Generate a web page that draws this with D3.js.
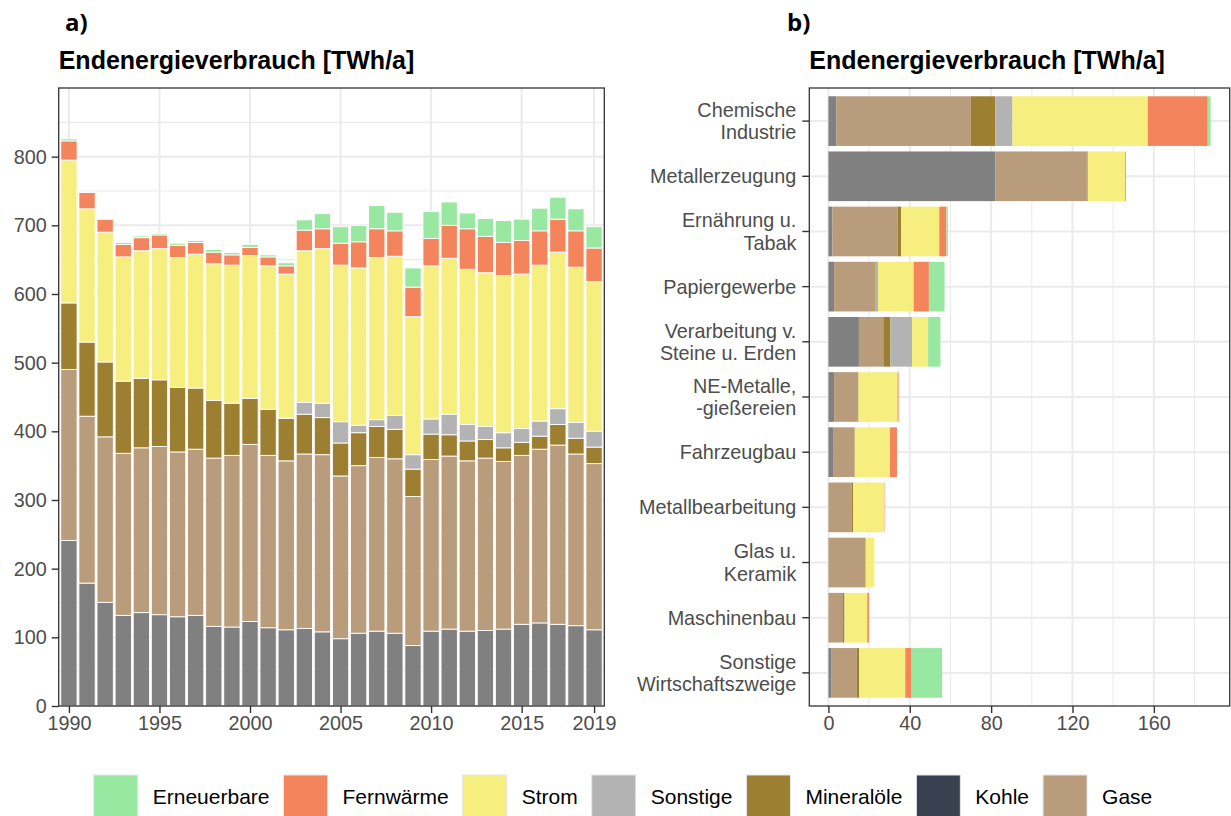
<!DOCTYPE html>
<html>
<head>
<meta charset="utf-8">
<script src="https://cdn.jsdelivr.net/npm/d3@7"></script>
<style>
  body { margin: 0; background: #fff; }
  svg { display: block; }
</style>
</head>
<body>
<svg id="chart" width="1231" height="816"></svg>
<script>
// ---- Panel a: final energy use of industry by year [TWh/a] ----
const years = [1990, 1991, 1992, 1993, 1994, 1995, 1996, 1997, 1998, 1999,
               2000, 2001, 2002, 2003, 2004, 2005, 2006, 2007, 2008, 2009,
               2010, 2011, 2012, 2013, 2014, 2015, 2016, 2017, 2018, 2019];
const yearTicks = [1990, 1995, 2000, 2005, 2010, 2015, 2019];
const valueTicksA = [0, 100, 200, 300, 400, 500, 600, 700, 800];

const kohle       = [241, 179, 151, 132, 136, 133, 130, 132, 116, 115, 123, 114, 111, 113, 108, 98, 106, 109, 106, 88, 109, 112, 109, 110, 112, 119, 121, 119, 117, 111];
const gase        = [249, 243, 241, 236, 240, 245, 240, 242, 245, 250, 258, 251, 246, 254, 258, 237, 244, 253, 254, 217, 250, 252, 248, 251, 244, 246, 253, 261, 250, 242];
const mineraloele = [97, 108, 109, 105, 101, 97, 94, 89, 84, 76, 67, 67, 62, 58, 54, 48, 48, 45, 43, 40, 37, 31, 29, 27, 20, 19, 19, 30, 23, 24];
const sonstige    = [0, 0, 0, 0, 0, 0, 0, 0, 0, 0, 0, 0, 0, 17, 21, 31, 11, 10, 20, 21, 22, 30, 24, 19, 22, 20, 22, 23, 23, 23];
const strom       = [208, 194, 189, 181, 186, 191, 189, 195, 199, 201, 208, 209, 210, 221, 225, 228, 229, 236, 232, 201, 223, 227, 226, 224, 229, 225, 227, 228, 226, 218];
const fernwaerme  = [28, 24, 19, 18, 19, 20, 18, 17, 17, 15, 12, 13, 12, 30, 29, 32, 38, 42, 37, 43, 40, 48, 59, 53, 48, 49, 50, 48, 53, 49];
const erneuerbare = [3, 1, 0.5, 3, 2.5, 2, 3, 3, 4, 3.5, 4, 3, 4.5, 15, 22, 24, 24, 34, 27, 28, 39, 34, 23, 26, 32, 31, 33, 32, 32, 31];

// ---- Panel b: final energy use by industrial branch [TWh/a] ----
const sectors = ["Chemische\nIndustrie", "Metallerzeugung", "Ernährung u.\nTabak", "Papiergewerbe",
                 "Verarbeitung v.\nSteine u. Erden", "NE-Metalle,\n-gießereien", "Fahrzeugbau",
                 "Metallbearbeitung", "Glas u.\nKeramik", "Maschinenbau", "Sonstige\nWirtschaftszweige"];
const valueTicksB = [0, 40, 80, 120, 160];

const bKohle       = [4, 82, 2, 2.8, 15, 2.8, 2.6, 0, 0, 0, 1.6];
const bGase        = [66, 45, 32, 19.8, 12, 11.8, 10.2, 11.4, 17.7, 7.1, 12.2];
const bMineraloele = [12, 0.5, 1.8, 0.3, 3.5, 0.2, 0.2, 0.8, 0.6, 0.8, 1.4];
const bSonstige    = [8.5, 0, 0, 1.5, 10.6, 0, 0, 0, 0, 0, 0];
const bStrom       = [66.5, 18.3, 18.7, 17.5, 7.9, 19.2, 17.3, 15.2, 4.3, 11.2, 22.6];
const bFernwaerme  = [29.5, 0.4, 3.5, 7.5, 0, 0.5, 3.4, 0.2, 0, 0.8, 3.1];
const bErneuerbare = [1.4, 0, 0.8, 7.7, 6.1, 0, 0, 0, 0, 0, 15];

// Energy carriers, stacked bottom → top, and the legend order
const carriers = ["Kohle", "Gase", "Mineralöle", "Sonstige", "Strom", "Fernwärme", "Erneuerbare"];
const legendOrder = ["Erneuerbare", "Fernwärme", "Strom", "Sonstige", "Mineralöle", "Kohle", "Gase"];

const barColor = {
  "Erneuerbare": "#99e8a2", "Fernwärme": "#f4845c", "Strom": "#f6ef80", "Sonstige": "#b3b3b3",
  "Mineralöle": "#9d7f32", "Kohle": "#808080", "Gase": "#b89c7b"
};
const legendColor = Object.assign({}, barColor, { "Kohle": "#394150" });

const seriesA = { "Kohle": kohle, "Gase": gase, "Mineralöle": mineraloele, "Sonstige": sonstige,
                  "Strom": strom, "Fernwärme": fernwaerme, "Erneuerbare": erneuerbare };
const seriesB = { "Kohle": bKohle, "Gase": bGase, "Mineralöle": bMineraloele, "Sonstige": bSonstige,
                  "Strom": bStrom, "Fernwärme": bFernwaerme, "Erneuerbare": bErneuerbare };

const rowsA = years.map((y, i) => {
  const r = { year: y };
  carriers.forEach(c => r[c] = seriesA[c][i]);
  return r;
});
const rowsB = sectors.map((s, i) => {
  const r = { sector: s };
  carriers.forEach(c => r[c] = seriesB[c][i]);
  return r;
});

const stack = d3.stack().keys(carriers);
const stackedA = stack(rowsA);
const stackedB = stack(rowsB);

// ---- common styling ----
const FONT = '"Liberation Sans", Arial, Helvetica, sans-serif';
const GRID = "#ebebeb";
const INK = "#333333";
const TICKTXT = "#4d4d4d";
const TICK_FS = "19.8px";

const svg = d3.select("#chart");

function styleAxis(g) {
  g.select(".domain").remove();
  g.selectAll(".tick line").attr("stroke", INK).attr("stroke-width", 1.4);
  g.selectAll(".tick text").attr("fill", TICKTXT).style("font-family", FONT).style("font-size", TICK_FS);
}

// ===================== Panel a =====================
const A = { left: 58.7, right: 604.3, top: 88, bottom: 706 };
const xA = d3.scaleLinear()
  .domain([years[0] - 0.565, years[years.length - 1] + 0.565])
  .range([A.left, A.right]);
const yA = d3.scaleLinear().domain([0, 900]).range([A.bottom, A.top]);

const gA = svg.append("g");
// grid
const minorA = d3.range(50, 900, 100);
gA.append("g").selectAll("line").data(minorA).join("line")
  .attr("x1", A.left).attr("x2", A.right)
  .attr("y1", d => yA(d)).attr("y2", d => yA(d))
  .attr("stroke", GRID).attr("stroke-width", 1.1);
gA.append("g").selectAll("line").data(valueTicksA).join("line")
  .attr("x1", A.left).attr("x2", A.right)
  .attr("y1", d => yA(d)).attr("y2", d => yA(d))
  .attr("stroke", GRID).attr("stroke-width", 2);
gA.append("g").selectAll("line").data(yearTicks).join("line")
  .attr("x1", d => xA(d)).attr("x2", d => xA(d))
  .attr("y1", A.top).attr("y2", A.bottom)
  .attr("stroke", GRID).attr("stroke-width", 2);

// stacked bars
const halfBar = 0.45;
gA.append("g").selectAll("g").data(stackedA).join("g")
  .attr("fill", d => barColor[d.key])
  .selectAll("rect").data(d => d.filter(s => s[1] - s[0] > 0)).join("rect")
  .attr("x", d => xA(d.data.year - halfBar))
  .attr("width", d => xA(d.data.year + halfBar) - xA(d.data.year - halfBar))
  .attr("y", d => yA(d[1]))
  .attr("height", d => yA(d[0]) - yA(d[1]))
  .attr("stroke", "#ffffff").attr("stroke-width", 0.9);

// axes
gA.append("g").attr("transform", `translate(${A.left},0)`)
  .call(d3.axisLeft(yA).tickValues(valueTicksA).tickSize(7).tickPadding(5).tickFormat(d3.format("d")))
  .call(styleAxis);
gA.append("g").attr("transform", `translate(0,${A.bottom})`)
  .call(d3.axisBottom(xA).tickValues(yearTicks).tickSize(7).tickPadding(3).tickFormat(d3.format("d")))
  .call(styleAxis);

gA.append("rect").attr("x", A.left).attr("y", A.top)
  .attr("width", A.right - A.left).attr("height", A.bottom - A.top)
  .attr("fill", "none").attr("stroke", INK).attr("stroke-width", 1.3);

// ===================== Panel b =====================
const B = { left: 809.3, right: 1229.7, top: 88, bottom: 706 };
const maxB = d3.max(stackedB[stackedB.length - 1], d => d[1]);
const xB = d3.scaleLinear().domain([-0.05 * maxB, 1.05 * maxB]).range([B.left, B.right]);
// bars take 0.9 of a step; 0.6-step margin from the panel edge to the first/last bar centre
const yB = d3.scaleBand().domain(sectors)
  .range([B.top, B.bottom]).paddingInner(0.1).paddingOuter(0.15);

const gB = svg.append("g");
const minorB = [20, 60, 100, 140, 180];
gB.append("g").selectAll("line").data(minorB).join("line")
  .attr("x1", d => xB(d)).attr("x2", d => xB(d))
  .attr("y1", B.top).attr("y2", B.bottom)
  .attr("stroke", GRID).attr("stroke-width", 1.1);
gB.append("g").selectAll("line").data(valueTicksB).join("line")
  .attr("x1", d => xB(d)).attr("x2", d => xB(d))
  .attr("y1", B.top).attr("y2", B.bottom)
  .attr("stroke", GRID).attr("stroke-width", 2);
gB.append("g").selectAll("line").data(sectors).join("line")
  .attr("x1", B.left).attr("x2", B.right)
  .attr("y1", d => yB(d) + yB.bandwidth() / 2).attr("y2", d => yB(d) + yB.bandwidth() / 2)
  .attr("stroke", GRID).attr("stroke-width", 2);

gB.append("g").selectAll("g").data(stackedB).join("g")
  .attr("fill", d => barColor[d.key])
  .selectAll("rect").data(d => d.filter(s => s[1] - s[0] > 0)).join("rect")
  .attr("x", d => xB(d[0]))
  .attr("width", d => xB(d[1]) - xB(d[0]))
  .attr("y", d => yB(d.data.sector))
  .attr("height", yB.bandwidth());

gB.append("g").attr("transform", `translate(0,${B.bottom})`)
  .call(d3.axisBottom(xB).tickValues(valueTicksB).tickSize(7).tickPadding(3))
  .call(styleAxis);

const yAxisB = gB.append("g").attr("transform", `translate(${B.left},0)`)
  .call(d3.axisLeft(yB).tickSize(7).tickPadding(5))
  .call(styleAxis);
// multi-line branch labels
yAxisB.selectAll(".tick text").each(function (d) {
  const lines = d.split("\n");
  const t = d3.select(this).text(null).attr("dy", null);
  const lh = 22.5;
  const y0 = -((lines.length - 1) * lh) / 2;
  lines.forEach((ln, k) => {
    t.append("tspan").attr("x", -13).attr("y", y0 + k * lh).attr("dy", "0.35em").text(ln);
  });
});

gB.append("rect").attr("x", B.left).attr("y", B.top)
  .attr("width", B.right - B.left).attr("height", B.bottom - B.top)
  .attr("fill", "none").attr("stroke", INK).attr("stroke-width", 1.3);

// ===================== Titles =====================
function panelTitles(tag, x, xTag) {
  svg.append("text").attr("x", xTag).attr("y", 31)
    .style("font-family", '"Open Sans", "DejaVu Sans", sans-serif').style("font-weight", 700)
    .style("font-size", "24px").attr("fill", "#000").text(tag);
  svg.append("text").attr("x", x).attr("y", 69)
    .style("font-family", FONT).style("font-weight", 700)
    .style("font-size", "25px").attr("fill", "#000").text("Endenergieverbrauch [TWh/a]");
}
panelTitles("a)", A.left, 65);
panelTitles("b)", B.left, 787);

// ===================== Legend =====================
const keySize = 44, keyGap = 15, itemGap = 14;
const legend = svg.append("g");
const items = legend.selectAll("g").data(legendOrder).join("g");
items.append("rect").attr("width", keySize).attr("height", keySize)
  .attr("fill", d => legendColor[d]).attr("stroke", "#e6e6e6").attr("stroke-width", 1);
items.append("text").attr("x", keySize + keyGap).attr("y", keySize / 2).attr("dy", "0.35em")
  .style("font-family", FONT).style("font-size", "21px").attr("fill", "#000").text(d => d);
let cursor = 0;
const offsets = [];
items.each(function () {
  offsets.push(cursor);
  const w = d3.select(this).select("text").node().getComputedTextLength();
  cursor += keySize + keyGap + w + itemGap;
});
const legendWidth = cursor - itemGap;
const legendX = 623 - legendWidth / 2;
items.attr("transform", (d, i) => `translate(${legendX + offsets[i]},775)`);
</script>
</body>
</html>
